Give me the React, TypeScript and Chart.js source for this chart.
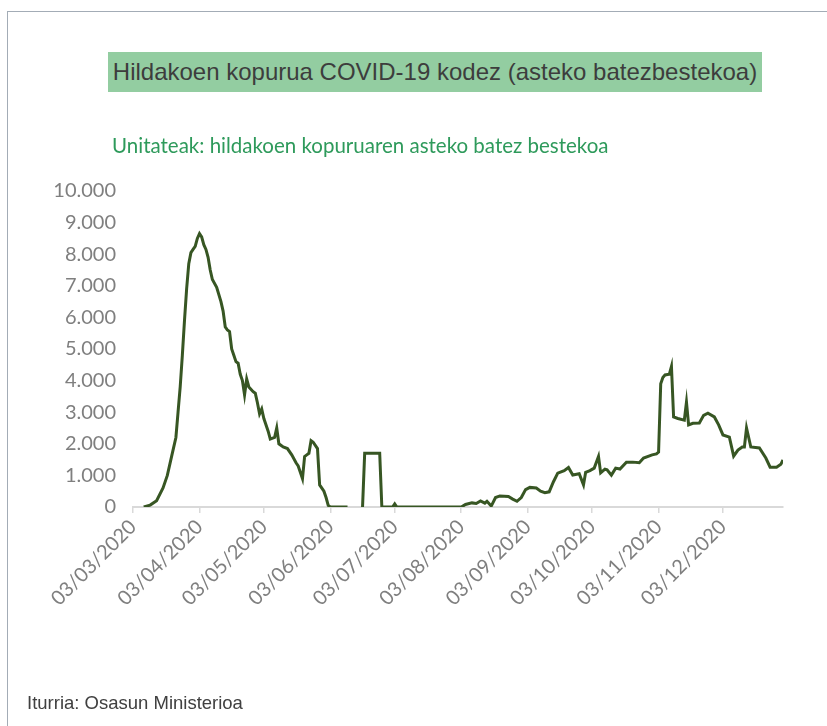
import { useEffect, useRef } from "react";
import { Chart, registerables } from "chart.js";

Chart.register(...registerables);

const titleText = "Hildakoen kopurua COVID-19 kodez (asteko batezbestekoa)";
const subtitleText = "Unitateak: hildakoen kopuruaren asteko batez bestekoa";
const sourceText = "Iturria: Osasun Ministerioa";

const startDate = "03/03/2020";
const endDate = "31/12/2020";

const tickDates = [
  "03/03/2020", "03/04/2020", "03/05/2020", "03/06/2020", "03/07/2020",
  "03/08/2020", "03/09/2020", "03/10/2020", "03/11/2020", "03/12/2020",
];

const yTicks = [0, 1000, 2000, 3000, 4000, 5000, 6000, 7000, 8000, 9000, 10000];

const dates = [
  "08/03/2020", "11/03/2020", "14/03/2020", "17/03/2020", "19/03/2020", "21/03/2020",
  "23/03/2020", "24/03/2020", "25/03/2020", "26/03/2020", "27/03/2020", "28/03/2020",
  "29/03/2020", "30/03/2020", "31/03/2020", "01/04/2020", "02/04/2020", "03/04/2020",
  "04/04/2020", "05/04/2020", "06/04/2020", "07/04/2020", "08/04/2020", "09/04/2020",
  "11/04/2020", "13/04/2020", "14/04/2020", "15/04/2020", "16/04/2020", "17/04/2020",
  "18/04/2020", "19/04/2020", "20/04/2020", "21/04/2020", "22/04/2020", "23/04/2020",
  "24/04/2020", "25/04/2020", "26/04/2020", "28/04/2020", "29/04/2020", "30/04/2020",
  "01/05/2020", "02/05/2020", "03/05/2020", "05/05/2020", "06/05/2020", "08/05/2020",
  "09/05/2020", "10/05/2020", "12/05/2020", "14/05/2020", "16/05/2020", "18/05/2020",
  "19/05/2020", "20/05/2020", "21/05/2020", "22/05/2020", "23/05/2020", "24/05/2020",
  "25/05/2020", "26/05/2020", "28/05/2020", "29/05/2020", "31/05/2020", "01/06/2020",
  "02/06/2020", "03/06/2020", "11/06/2020", "15/06/2020", "18/06/2020", "19/06/2020",
  "26/06/2020", "27/06/2020", "02/07/2020", "03/07/2020", "04/07/2020", "03/08/2020",
  "05/08/2020", "08/08/2020", "10/08/2020", "12/08/2020", "14/08/2020", "15/08/2020",
  "17/08/2020", "19/08/2020", "21/08/2020", "25/08/2020", "27/08/2020", "29/08/2020",
  "31/08/2020", "02/09/2020", "04/09/2020", "07/09/2020", "09/09/2020", "11/09/2020",
  "13/09/2020", "15/09/2020", "17/09/2020", "20/09/2020", "22/09/2020", "24/09/2020",
  "27/09/2020", "29/09/2020", "30/09/2020", "02/10/2020", "04/10/2020", "06/10/2020",
  "07/10/2020", "09/10/2020", "10/10/2020", "12/10/2020", "14/10/2020", "16/10/2020",
  "19/10/2020", "22/10/2020", "25/10/2020", "27/10/2020", "31/10/2020", "02/11/2020",
  "03/11/2020", "04/11/2020", "05/11/2020", "06/11/2020", "08/11/2020", "09/11/2020",
  "10/11/2020", "12/11/2020", "15/11/2020", "16/11/2020", "17/11/2020", "19/11/2020",
  "22/11/2020", "24/11/2020", "26/11/2020", "29/11/2020", "01/12/2020", "03/12/2020",
  "06/12/2020", "08/12/2020", "10/12/2020", "12/12/2020", "13/12/2020", "14/12/2020",
  "16/12/2020", "20/12/2020", "23/12/2020", "25/12/2020", "28/12/2020", "30/12/2020",
  "31/12/2020",
];

const deaths: (number | null)[] = [
  0, 60, 200, 600, 1000, 1600,
  2200, 3000, 3800, 4800, 5900, 6900,
  7700, 8050, 8150, 8250, 8500, 8650,
  8550, 8300, 8150, 7900, 7500, 7200,
  6950, 6500, 6200, 5700, 5600, 5550,
  5000, 4800, 4600, 4550, 4200, 4000,
  3550, 4050, 3800, 3650, 3600, 3300,
  2950, 3100, 2800, 2400, 2150, 2200,
  2500, 2000, 1900, 1850, 1650, 1400,
  1300, 1100, 900, 1600, 1650, 1700,
  2100, 2050, 1850, 700, 500, 300,
  50, 0, 0, null, 0, 1700,
  1700, 0, 0, 100, 0, 0,
  80, 130, 110, 190, 120, 180,
  30, 300, 350, 330, 250, 180,
  300, 550, 620, 600, 500, 450,
  480, 800, 1070, 1150, 1250, 1010,
  1050, 700, 1100, 1150, 1230, 1600,
  1080, 1200, 1180, 1010, 1230, 1200,
  1420, 1420, 1400, 1550, 1650, 1680,
  1740, 3900, 4100, 4180, 4200, 4450,
  2850, 2800, 2750, 3320, 2600, 2650,
  2660, 2900, 2970, 2850, 2600, 2280,
  2210, 1610, 1800, 1900, 1900, 2500,
  1900, 1870, 1550, 1260, 1260, 1350,
  1490,
];

function dayIndex(s: string): number {
  const [d, m, y] = s.split("/").map(Number);
  const [d0, m0, y0] = startDate.split("/").map(Number);
  return Math.round((Date.UTC(y, m - 1, d) - Date.UTC(y0, m0 - 1, d0)) / 86400000);
}

function fmtThousands(v: number): string {
  return String(Math.round(v)).replace(/\B(?=(\d{3})+(?!\d))/g, ".");
}

export default function App() {
  const canvasRef = useRef<HTMLCanvasElement | null>(null);

  useEffect(() => {
    if (!canvasRef.current) return;
    const tickColor = "#7f7f7f";
    const tickFont = { family: "Lato", size: 20 };
    const chart = new Chart(canvasRef.current, {
      type: "line",
      data: {
        datasets: [
          {
            data: dates.map((d, i) => ({ x: dayIndex(d), y: deaths[i] })) as any,
            borderColor: "#375623",
            borderWidth: 3,
            pointRadius: 0,
            tension: 0,
            spanGaps: false,
            fill: false,
          },
        ],
      },
      options: {
        animation: false,
        responsive: false,
        maintainAspectRatio: false,
        layout: { padding: { left: 20, top: 191, right: 44, bottom: 99 } },
        plugins: { legend: { display: false }, tooltip: { enabled: false }, title: { display: false } },
        scales: {
          x: {
            type: "linear",
            min: dayIndex(startDate),
            max: dayIndex(endDate),
            afterBuildTicks: (scale: any) => {
              scale.ticks = tickDates.map((d) => ({ value: dayIndex(d) }));
            },
            afterFit: (scale: any) => {
              scale.height = 120;
            },
            ticks: {
              autoSkip: false,
              maxRotation: 45,
              minRotation: 45,
              color: tickColor,
              font: tickFont,
              padding: 2,
              callback: (value: any) => {
                const i = tickDates.findIndex((d) => dayIndex(d) === value);
                return i >= 0 ? tickDates[i] : "";
              },
            },
            grid: {
              display: true,
              drawOnChartArea: false,
              drawTicks: true,
              tickLength: 6,
              color: "#d9d9d9",
              lineWidth: 1.5,
            },
            border: { display: true, color: "#d9d9d9", width: 2 },
          },
          y: {
            min: 0,
            max: 10000,
            afterBuildTicks: (scale: any) => {
              scale.ticks = yTicks.map((v) => ({ value: v }));
            },
            afterFit: (scale: any) => {
              scale.width = 113;
            },
            ticks: {
              color: tickColor,
              font: tickFont,
              padding: 17,
              callback: (value: any) => fmtThousands(Number(value)),
            },
            grid: { display: false, drawTicks: false },
            border: { display: false },
          },
        },
      },
    });
    return () => chart.destroy();
  }, []);

  return (
    <div style={{ position: "absolute", left: 0, top: 0, width: 827, height: 726, background: "#ffffff", overflow: "hidden" }}>
      <div
        style={{
          position: "absolute",
          left: 7,
          top: 11,
          width: 830,
          height: 730,
          borderTop: "1px solid #a3acb6",
          borderLeft: "1px solid #a3acb6",
          boxSizing: "border-box",
        }}
      />
      <canvas ref={canvasRef} width={827} height={726} style={{ position: "absolute", left: 0, top: 0, width: 827, height: 726 }} />
      <div
        style={{
          position: "absolute",
          left: 108,
          top: 52,
          width: 654,
          height: 40,
          background: "#93cda1",
          color: "#3d3d3d",
          fontFamily: "'Liberation Sans', Arial, sans-serif",
          fontSize: 24,
          lineHeight: "40px",
          textAlign: "center",
          whiteSpace: "nowrap",
        }}
      >
        {titleText}
      </div>
      <div
        style={{
          position: "absolute",
          left: 112,
          top: 132,
          color: "#2e9a5b",
          fontFamily: "Lato, sans-serif",
          fontSize: 20.5,
          lineHeight: "26px",
          whiteSpace: "nowrap",
        }}
      >
        {subtitleText}
      </div>
      <div
        style={{
          position: "absolute",
          left: 27,
          top: 691,
          color: "#404040",
          fontFamily: "'Liberation Sans', Arial, sans-serif",
          fontSize: 18.5,
          lineHeight: "24px",
          whiteSpace: "nowrap",
        }}
      >
        {sourceText}
      </div>
    </div>
  );
}
